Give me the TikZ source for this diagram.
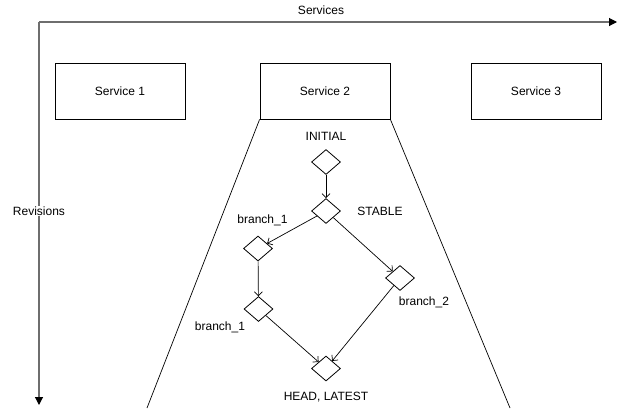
\documentclass[tikz,border=0pt]{standalone}
\usepackage{fontspec}
\setmainfont{Liberation Sans}
\usetikzlibrary{arrows.meta,shapes.geometric}
\definecolor{axisgray}{RGB}{110,110,110}
\begin{document}
\begin{tikzpicture}[x=1pt,y=-1pt,font=\fontsize{12}{14}\selectfont,
  svc/.style={draw,line width=0.8pt,minimum width=130pt,minimum height=56pt,inner sep=0pt},
  rev/.style={draw,shape=diamond,line width=0.8pt,minimum width=29pt,minimum height=25pt,inner sep=0pt},
  axis/.style={draw=axisgray,line width=1.1pt,-{Triangle[length=8pt,width=8pt,color=black]}},
  flow/.style={draw,line width=0.7pt,-{Straight Barb[length=4pt,width=8pt]}},
  lbl/.style={inner sep=1pt},
  side/.style={draw,line width=0.7pt}]
\useasboundingbox (0,0) rectangle (618,408);
% axes
\coordinate (o) at (39,22);
\coordinate (xe) at (617,22);
\coordinate (ye) at (39,405);
\draw[axis] (o) -- (xe);
\draw[axis] (o) -- (ye);
\node[lbl] (services) at (321,10) {Services};
\node[lbl,fill=white] (revisions) at (39,211) {Revisions};
% services
\node[svc] (s1) at (120,91) {Service 1};
\node[svc] (s2) at (325,91) {Service 2};
\node[svc] (s3) at (536,91) {Service 3};
% funnel
\coordinate (tl) at (147,408);
\coordinate (tr) at (510,408);
\draw[side] (s2.south west) -- (tl);
\draw[side] (s2.south east) -- (tr);
% revisions
\node[rev] (init) at (326,162) {};
\node[rev] (stable) at (326,211) {};
\node[rev] (b1a) at (258,248.5) {};
\node[rev] (b1b) at (258.5,309) {};
\node[rev] (b2) at (400,278) {};
\node[rev] (head) at (326,368.5) {};
% labels
\node[lbl] (linit) at (326,136) {INITIAL};
\node[lbl] (lstable) at (380,211) {STABLE};
\node[lbl] (lb1a) at (262.5,220) {branch\_1};
\node[lbl] (lb1b) at (220,327) {branch\_1};
\node[lbl] (lb2) at (424,302) {branch\_2};
\node[lbl] (lhead) at (326,397) {HEAD, LATEST};
% connectors
\draw[flow] (init) -- (stable);
\draw[flow] (stable) -- (b1a);
\draw[flow] (stable) -- (b2);
\draw[flow] (b1a) -- (b1b);
\draw[flow] (b1b) -- (head);
\draw[flow] (b2) -- (head);
\end{tikzpicture}
\end{document}
